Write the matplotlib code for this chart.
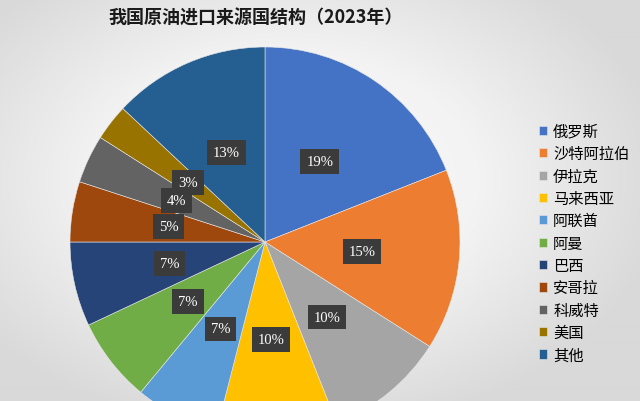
import numpy as np
import matplotlib.pyplot as plt
from matplotlib.colors import LinearSegmentedColormap

plt.rcParams['font.family'] = ['Noto Sans CJK SC', 'DejaVu Sans']

# 数据
countries = ['俄罗斯', '沙特阿拉伯', '伊拉克', '马来西亚', '阿联酋', '阿曼',
             '巴西', '安哥拉', '科威特', '美国', '其他']
shares = [19, 15, 10, 10, 7, 7, 7, 5, 4, 3, 13]
colors = ['#4472C4', '#ED7D31', '#A5A5A5', '#FFC000', '#5B9BD5', '#70AD47',
          '#264478', '#9E480E', '#636363', '#997300', '#255E91']

fig = plt.figure(figsize=(6.4, 4.02), dpi=100)

# 背景渐变
bg = fig.add_axes([0, 0, 1, 1], zorder=0)
yy, xx = np.mgrid[0:1:200j, 0:1:320j]
dist = np.sqrt(((xx - 0.45) / 0.75) ** 2 + ((yy - 0.45) / 0.8) ** 2)
cmap = LinearSegmentedColormap.from_list('bg', ['#fbfbfb', '#f3f3f3', '#d9d9d9'])
bg.imshow(dist, cmap=cmap, aspect='auto', extent=[0, 1, 0, 1], vmin=0, vmax=0.8)
bg.axis('off')

# 饼图（像素坐标）
ax = fig.add_axes([0, 0, 1, 1], zorder=1)
ax.patch.set_alpha(0)
wedges, texts, autotexts = ax.pie(
    shares, colors=colors, startangle=90, counterclock=False,
    center=(265, 159), radius=195,
    autopct='%d%%', pctdistance=0.5,
    wedgeprops=dict(linewidth=0.4, edgecolor='#e8e8e8'),
    textprops=dict(color='white', fontsize=10.5, family='Liberation Serif'))
for t in autotexts:
    t.set_bbox(dict(boxstyle='square,pad=0.4', facecolor='#3b3b3b',
                    edgecolor='none'))
ax.set_xlim(0, 640)
ax.set_ylim(0, 402)
ax.set_aspect('equal')
ax.axis('off')

fig.text(0.40, 0.955, '我国原油进口来源国结构（2023年）', ha='center', va='center',
         fontsize=13, fontweight='bold', color='#1a1a1a')

fig.legend(wedges, countries, loc='upper left', bbox_to_anchor=(0.832, 0.707),
           frameon=False, fontsize=11, handlelength=0.55, handleheight=0.55,
           handletextpad=0.4, labelspacing=0.35, borderaxespad=0)

fig.savefig('out.png', dpi=100)
